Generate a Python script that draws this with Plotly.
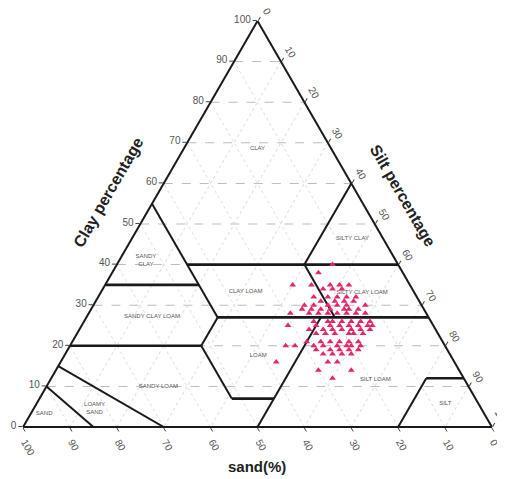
import plotly.graph_objects as go

# ---- sample data (clay %, silt %, sand %) ----
clay = [40, 38,
        35, 35, 35, 35, 35,
        34, 34, 34,
        32, 32, 32, 32, 32,
        31, 31, 31, 31,
        30, 30, 30, 30, 30, 30,
        29, 29, 29, 29, 29, 29, 29,
        28, 28, 28, 28, 28, 28, 28, 28,
        26, 26, 26, 26, 26, 26, 26,
        25, 25, 25, 25, 25, 25, 25, 25,
        24, 24, 24, 24, 24, 24, 24,
        23, 23, 23, 23, 23, 23,
        21, 21, 21, 21, 21, 21,
        20, 20, 20, 20, 20, 20, 20, 20,
        19, 19, 19, 19, 19,
        18, 18, 18, 18,
        16, 16, 16,
        14, 14,
        12]
silt = [46, 44,
        40, 44, 48, 50, 52,
        47, 49, 51,
        46, 49, 51, 53, 55,
        48, 51, 53, 55,
        45, 47, 50, 52, 54, 58,
        45, 47, 49, 51, 54, 55, 57,
        43, 47, 49, 51, 53, 55, 57, 59,
        49, 52, 53, 55, 57, 59, 61,
        44, 50, 53, 55, 57, 59, 61, 62,
        49, 52, 54, 56, 58, 60, 62,
        51, 53, 55, 58, 59, 61,
        50, 53, 55, 57, 59, 61,
        46, 48, 52, 54, 57, 59, 60, 62,
        53, 56, 58, 60, 62,
        55, 57, 59, 61,
        46, 57, 59,
        56, 63,
        60]
sand = [14, 18,
        25, 21, 17, 15, 13,
        19, 17, 15,
        22, 19, 17, 15, 13,
        21, 18, 16, 14,
        25, 23, 20, 18, 16, 12,
        26, 24, 22, 20, 17, 16, 14,
        29, 25, 23, 21, 19, 17, 15, 13,
        25, 22, 21, 19, 17, 15, 13,
        31, 25, 22, 20, 18, 16, 14, 13,
        27, 24, 22, 20, 18, 16, 14,
        26, 24, 22, 19, 18, 16,
        29, 26, 24, 22, 20, 18,
        34, 32, 28, 26, 23, 21, 20, 18,
        28, 25, 23, 21, 19,
        27, 25, 23, 21,
        38, 27, 25,
        30, 23,
        28]

# ---- USDA texture class boundaries: lists of (clay, sand, silt) vertices ----
boundaries_h = [  # horizontal (constant clay) boundaries
    [(40, 45, 15), (40, 0, 60)],
    [(35, 65, 0), (35, 45, 20)],
    [(27, 45, 28), (27, 0, 73)],
    [(20, 80, 0), (20, 52, 28)],
    [(7, 52, 41), (7, 43, 50)],
    [(12, 8, 80), (12, 0, 88)],
]
boundaries_d = [  # other boundaries
    [(55, 45, 0), (27, 45, 28)],
    [(60, 0, 40), (40, 20, 40)],
    [(40, 20, 40), (27, 20, 53)],
    [(20, 52, 28), (27, 45, 28)],
    [(27, 23, 50), (0, 50, 50)],
    [(20, 52, 28), (7, 52, 41)],
    [(15, 85, 0), (0, 70, 30)],
    [(10, 90, 0), (0, 85, 15)],
    [(0, 20, 80), (12, 8, 80)],
]

# ---- texture class labels ----
class_names = ["CLAY", "SILTY CLAY", "SANDY<br>CLAY", "CLAY LOAM", "SILTY CLAY LOAM",
               "SANDY CLAY LOAM", "LOAM", "SILT LOAM", "SANDY LOAM", "LOAMY<br>SAND",
               "SAND", "SILT"]
class_clay = [68.6, 46.5, 41.0, 33.3, 33.2, 27.2, 17.7, 11.7, 9.9, 4.5, 3.4, 5.7]
class_sand = [15.7, 6.5, 53.3, 35.9, 11.1, 58.9, 41.0, 19.0, 66.2, 82.5, 93.8, 7.1]
class_silt = [15.7, 47.0, 5.7, 30.8, 55.7, 13.9, 41.3, 69.3, 23.9, 13.0, 2.8, 87.2]

tick_vals = [0, 10, 20, 30, 40, 50, 60, 70, 80, 90, 100]

FONT = "Liberation Sans, Arial, sans-serif"
fig = go.Figure()

for segs, wdt in ((boundaries_h, 2.6), (boundaries_d, 2)):
    for seg in segs:
        fig.add_trace(go.Scatterternary(
            a=[p[0] for p in seg], b=[p[1] for p in seg], c=[p[2] for p in seg],
            mode="lines", line=dict(color="#1a1a1a", width=wdt),
            hoverinfo="skip", showlegend=False))

fig.add_trace(go.Scatterternary(
    a=class_clay, b=class_sand, c=class_silt, text=class_names,
    mode="text", textfont=dict(size=6, color="#555555", family=FONT),
    hoverinfo="skip", showlegend=False))

fig.add_trace(go.Scatterternary(
    a=clay, b=sand, c=silt, mode="markers",
    marker=dict(symbol="triangle-up", size=6, color="#e2286a"),
    showlegend=False))

axis_common = dict(
    title=dict(text=""),
    tickmode="array", tickvals=tick_vals,
    ticks="outside", ticklen=4, tickcolor="#444",
    tickfont=dict(size=10, color="#555555", family=FONT),
    linecolor="#1a1a1a", linewidth=2,
    showgrid=True, gridwidth=1,
    min=0,
)

# page body has an 8px margin: figure sized so it fits the 505x479 window
W, H = 497, 471
pl, pr, pt, pb = 15, 13, 13, 52
OFF = 8

def px_to_paper(x, y):
    fx = x - OFF
    fy = y - OFF
    return (fx - pl) / (W - pl - pr), 1 - (fy - pt) / (H - pt - pb)

ann_specs = [
    ("<b>Clay percentage</b>", 108, 192, -60, 16),
    ("<b>Silt percentage</b>", 403, 195, 60, 16),
    ("<b>sand(%)</b>", 257, 466, 0, 15),
]
annotations = []
for txt, x, y, ang, sz in ann_specs:
    ax, ay = px_to_paper(x, y)
    annotations.append(dict(text=txt, x=ax, y=ay, xref="paper", yref="paper",
                            xanchor="center", yanchor="middle",
                            showarrow=False, textangle=ang,
                            font=dict(size=sz, color="#222", family=FONT)))

fig.update_layout(
    width=W, height=H,
    margin=dict(l=pl, r=pr, t=pt, b=pb),
    paper_bgcolor="white",
    ternary=dict(
        sum=100,
        bgcolor="white",
        aaxis=dict(**axis_common, tickangle=0, gridcolor="#bdbdbd", griddash="dash"),
        baxis=dict(**axis_common, tickangle=60, gridcolor="#dedede", griddash="dot"),
        caxis=dict(**axis_common, tickangle=60, gridcolor="#dedede", griddash="dot"),
    ),
    annotations=annotations,
)

fig.write_html("out.html")
